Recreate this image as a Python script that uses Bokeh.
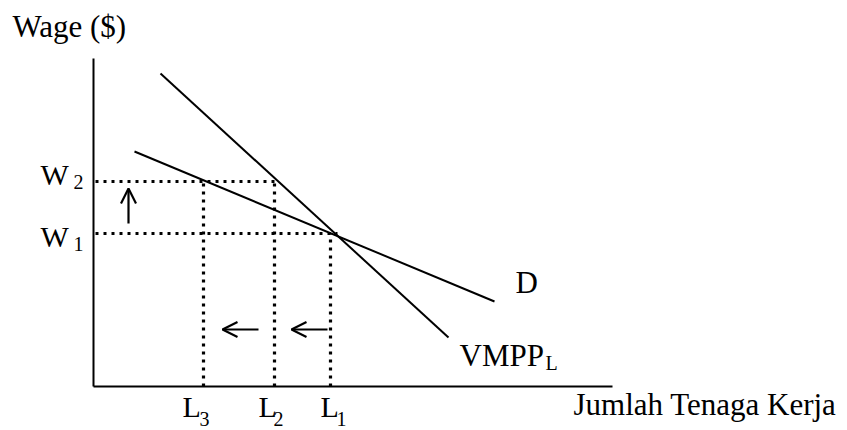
from bokeh.plotting import figure
from bokeh.models import Range1d, ColumnDataSource, Arrow, OpenHead
from bokeh.core.properties import value
from bokeh.embed import file_html
from bokeh.resources import INLINE

# ---- data (chart units: labour quantity on x, wage on y) ----
axis_x_end = 51.9
axis_y_end = 32.8

vmpp_x = [6.7, 35.5]
vmpp_y = [31.3, 4.9]
d_x = [4.1, 40.1]
d_y = [23.5, 8.5]

W1 = 15.3
W2 = 20.5
L1 = 23.7
L2 = 18.1
L3 = 11.0
W1_end = 24.4

up_arrow_x = [3.5]
up_arrow_y = [16.3, 19.8]
left_arrows_y = [5.7, 5.7]
left_arrows_x0 = [16.5, 23.4]
left_arrows_x1 = [12.9, 19.8]

big_texts = ["Wage ($)", "Jumlah Tenaga Kerja", "D", "VMPP"]
big_x = [-8.1, 48.0, 42.2, 36.6]
big_y = [34.9, -2.9, 9.3, 2.0]
mid_texts = ["W", "W", "L", "L", "L"]
mid_x = [-5.3, -5.3, 8.9, 16.5, 22.7]
mid_y = [20.1, 13.9, -3.1, -3.1, -3.1]
sub_texts = ["2", "1", "3", "2", "1", "L"]
sub_x = [-2.0, -2.0, 10.6, 18.0, 24.3, 45.2]
sub_y = [19.7, 13.5, -4.0, -4.0, -4.0, 1.6]

FONT = value("Liberation Serif")

p = figure(width=847, height=430, output_backend="svg", toolbar_location=None,
           x_range=Range1d(-9.3, 75.4), y_range=Range1d(-4.4, 38.6),
           min_border=0, outline_line_color=None)
p.axis.visible = False
p.grid.visible = False
p.background_fill_color = "white"
p.border_fill_color = "white"

# axes
p.line([0, 0], [0, axis_y_end], line_color="black", line_width=2)
p.line([0, axis_x_end], [0, 0], line_color="black", line_width=2)

# curves
p.line(vmpp_x, vmpp_y, line_color="black", line_width=2)
p.line(d_x, d_y, line_color="black", line_width=2)

# dotted guides
dot = dict(line_color="black", line_width=3.2, line_dash="3 5", line_cap="butt")
p.segment(x0=[0.2, 0.2, L3, L2, L1], y0=[W2, W1, 0, 0, 0],
          x1=[L2, W1_end, L3, L2, L1], y1=[W2, W1, W2, W2, W1], **dot)

# arrows
up_src = ColumnDataSource(dict(x0=up_arrow_x, y0=[up_arrow_y[0]], x1=up_arrow_x, y1=[up_arrow_y[1]]))
p.add_layout(Arrow(end=OpenHead(size=15, line_width=2.2), x_start="x0", y_start="y0",
                   x_end="x1", y_end="y1", source=up_src, line_width=2.2))
left_src = ColumnDataSource(dict(x0=left_arrows_x0, y0=left_arrows_y, x1=left_arrows_x1, y1=left_arrows_y))
p.add_layout(Arrow(end=OpenHead(size=15, line_width=2.2), x_start="x0", y_start="y0",
                   x_end="x1", y_end="y1", source=left_src, line_width=2.2))

# texts (y_offset compensates the SVG baseline shift)
p.text(x=big_x, y=big_y, text=big_texts, text_font=FONT, text_font_size="31px",
       text_align="left", text_baseline="alphabetic", text_color="black", y_offset=-11)
p.text(x=mid_x, y=mid_y, text=mid_texts, text_font=FONT, text_font_size="30px",
       text_align="left", text_baseline="alphabetic", text_color="black", y_offset=-11)
p.text(x=sub_x, y=sub_y, text=sub_texts, text_font=FONT, text_font_size="20px",
       text_align="left", text_baseline="alphabetic", text_color="black", y_offset=-8)

open("out.html", "w").write(file_html(p, INLINE))
